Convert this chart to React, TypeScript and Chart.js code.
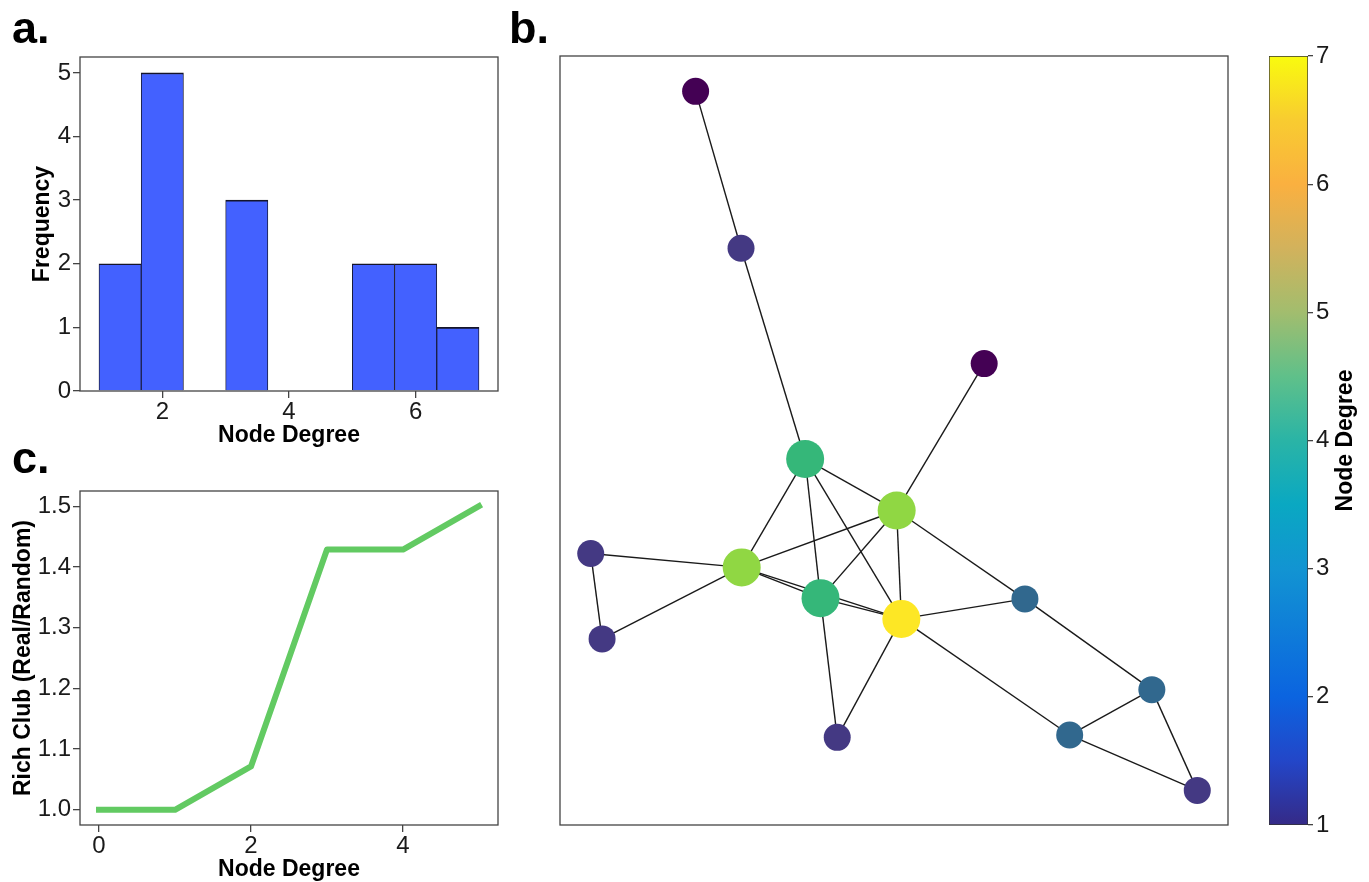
import React, { useEffect, useRef } from "react";
import { Chart, registerables } from "chart.js";

Chart.register(...registerables);

const FONT = 'Arial, "Liberation Sans", Helvetica, sans-serif';

// ---------- Panel a: node degree histogram ----------
const degreeBinEdges = [1, 5 / 3, 7 / 3, 3, 11 / 3, 13 / 3, 5, 17 / 3, 19 / 3, 7];
const degreeBinCounts = [2, 5, 0, 3, 0, 0, 2, 2, 1];
const histXTicks = [2, 4, 6];
const histYTicks = [0, 1, 2, 3, 4, 5];
const histXRange = [0.7, 7.3];
const histYRange = [0, 5.25];

// ---------- Panel c: rich club ----------
const richClubDegree = [0, 1, 2, 3, 4, 5];
const richClubRatio = [1.0, 1.0, 1.0714, 1.4286, 1.4286, 1.5];
const richXTicks = [0, 2, 4];
const richYTicks = [1.0, 1.1, 1.2, 1.3, 1.4, 1.5];
const richXRange = [-0.25, 5.25];
const richYRange = [0.975, 1.525];

// ---------- Panel b: network ----------
const nodeX = [0.203, 0.271, 0.635, 0.367, 0.504, 0.272, 0.39, 0.511, 0.046, 0.063, 0.415, 0.696, 0.763, 0.886, 0.954];
const nodeY = [0.954, 0.75, 0.6, 0.476, 0.409, 0.335, 0.295, 0.268, 0.353, 0.242, 0.114, 0.294, 0.117, 0.176, 0.045];
const edgeSource = [0, 1, 2, 3, 3, 3, 3, 4, 4, 4, 4, 5, 5, 5, 5, 6, 6, 7, 7, 7, 8, 11, 12, 12, 13];
const edgeTarget = [1, 3, 4, 4, 5, 6, 7, 5, 6, 7, 11, 8, 9, 6, 7, 7, 10, 10, 11, 12, 9, 13, 13, 14, 14];
// viridis sampled for degrees 1..7
const viridisByDegree = ["#440154", "#443983", "#31688e", "#21918c", "#35b779", "#90d743", "#fde725"];

// ---------- Colorbar ----------
const colorbarTicks = [1, 2, 3, 4, 5, 6, 7];
const colorbarStops: [number, string][] = [
  [0, "#352a87"],
  [0.083, "#2346c8"],
  [0.167, "#0b64e0"],
  [0.333, "#1294d2"],
  [0.417, "#0aa8c2"],
  [0.5, "#2ab4a6"],
  [0.583, "#5fc08a"],
  [0.667, "#a2bd6e"],
  [0.75, "#d2b25c"],
  [0.833, "#fab040"],
  [0.917, "#f8cc30"],
  [1, "#f9fb0e"],
];
const colorbarTitle = "Node Degree";

const SPINE = "#444444";

const framePlugin = {
  id: "frame",
  afterDraw(chart: any) {
    const { ctx, chartArea: a } = chart;
    ctx.save();
    ctx.strokeStyle = SPINE;
    ctx.lineWidth = 1.3;
    ctx.strokeRect(a.left, a.top, a.right - a.left, a.bottom - a.top);
    ctx.restore();
  },
};

const tickGrid = (len: number) => ({
  display: true,
  drawOnChartArea: false,
  drawTicks: true,
  tickLength: len,
  color: SPINE,
  lineWidth: 1.3,
  offset: false,
});

const tickFont = { family: FONT, size: 24 };
const titleFont = { family: FONT, size: 23, weight: "bold" as const };

export default function App() {
  const refA = useRef<HTMLCanvasElement>(null);
  const refB = useRef<HTMLCanvasElement>(null);
  const refC = useRef<HTMLCanvasElement>(null);
  const refD = useRef<HTMLCanvasElement>(null);

  useEffect(() => {
    const charts: Chart[] = [];

    // ---- Histogram ----
    const centers = degreeBinCounts.map((_, i) => (degreeBinEdges[i] + degreeBinEdges[i + 1]) / 2);
    charts.push(
      new Chart(refA.current!, {
        type: "bar",
        data: {
          datasets: [
            {
              data: centers.map((c, i) => ({ x: c, y: degreeBinCounts[i] })),
              backgroundColor: "#4361ff",
              borderColor: "#15152a",
              borderWidth: { top: 1.6, left: 0.9, right: 0.9, bottom: 0 },
              borderSkipped: false,
              barPercentage: 1,
              categoryPercentage: 1,
              grouped: false,
            } as any,
          ],
        },
        options: {
          animation: false,
          responsive: false,
          events: [],
          layout: { autoPadding: false, padding: { top: 57, right: 22, left: 0, bottom: 0 } },
          plugins: { legend: { display: false }, tooltip: { enabled: false } },
          scales: {
            x: {
              type: "linear",
              min: histXRange[0],
              max: histXRange[1],
              offset: false,
              afterBuildTicks: (s: any) => {
                s.ticks = histXTicks.map((v) => ({ value: v }));
              },
              afterFit: (s: any) => {
                s.height = 64;
              },
              grid: tickGrid(7),
              border: { display: false },
              ticks: { font: tickFont, color: "#1a1a1a", padding: 0, maxRotation: 0 },
              title: { display: true, text: "Node Degree", font: titleFont, color: "#000", padding: { top: 0, bottom: 6 } },
            },
            y: {
              type: "linear",
              min: histYRange[0],
              max: histYRange[1],
              afterBuildTicks: (s: any) => {
                s.ticks = histYTicks.map((v) => ({ value: v }));
              },
              afterFit: (s: any) => {
                s.width = 80;
              },
              grid: tickGrid(7),
              border: { display: false },
              ticks: { font: tickFont, color: "#1a1a1a", padding: 2 },
              title: { display: true, text: "Frequency", font: titleFont, color: "#000", padding: { top: 29, bottom: 0 } },
            },
          },
        } as any,
        plugins: [framePlugin],
      })
    );

    // ---- Rich club line ----
    charts.push(
      new Chart(refC.current!, {
        type: "line",
        data: {
          datasets: [
            {
              data: richClubDegree.map((d, i) => ({ x: d, y: richClubRatio[i] })),
              borderColor: "#62ca62",
              borderWidth: 6,
              borderCapStyle: "square",
              borderJoinStyle: "round",
              pointRadius: 0,
              tension: 0,
              fill: false,
            } as any,
          ],
        },
        options: {
          animation: false,
          responsive: false,
          events: [],
          layout: { autoPadding: false, padding: { top: 36, right: 22, left: 0, bottom: 0 } },
          plugins: { legend: { display: false }, tooltip: { enabled: false } },
          scales: {
            x: {
              type: "linear",
              min: richXRange[0],
              max: richXRange[1],
              afterBuildTicks: (s: any) => {
                s.ticks = richXTicks.map((v) => ({ value: v }));
              },
              afterFit: (s: any) => {
                s.height = 57;
              },
              grid: tickGrid(7),
              border: { display: false },
              ticks: { font: tickFont, color: "#1a1a1a", padding: 0, maxRotation: 0 },
              title: { display: true, text: "Node Degree", font: titleFont, color: "#000", padding: { top: 0, bottom: -1 } },
            },
            y: {
              type: "linear",
              min: richYRange[0],
              max: richYRange[1],
              afterBuildTicks: (s: any) => {
                s.ticks = richYTicks.map((v) => ({ value: v }));
              },
              afterFit: (s: any) => {
                s.width = 80;
              },
              grid: tickGrid(7),
              border: { display: false },
              ticks: {
                font: tickFont,
                color: "#1a1a1a",
                padding: 2,
                callback: (v: any) => Number(v).toFixed(1),
              },
              title: {
                display: true,
                text: "Rich Club (Real/Random)",
                font: titleFont,
                color: "#000",
                padding: { top: 10, bottom: 0 },
              },
            },
          },
        } as any,
        plugins: [framePlugin],
      })
    );

    // ---- Network ----
    const degree = nodeX.map(() => 0);
    edgeSource.forEach((s, i) => {
      degree[s] += 1;
      degree[edgeTarget[i]] += 1;
    });
    const nodeColors = degree.map((d) => viridisByDegree[d - 1]);
    const nodeRadii = degree.map((d) => (d >= 5 ? 19 : 13.5));
    const edgeSets = edgeSource.map((s, i) => {
      const t = edgeTarget[i];
      return {
        data: [
          { x: nodeX[s], y: nodeY[s] },
          { x: nodeX[t], y: nodeY[t] },
        ],
        showLine: true,
        borderColor: "#1a1a1a",
        borderWidth: 1.4,
        pointRadius: 0,
        order: 1,
      };
    });
    charts.push(
      new Chart(refB.current!, {
        type: "scatter",
        data: {
          datasets: [
            {
              data: nodeX.map((x, i) => ({ x, y: nodeY[i] })),
              pointRadius: nodeRadii,
              pointBackgroundColor: nodeColors,
              pointBorderWidth: 0,
              order: 0,
            } as any,
            ...(edgeSets as any[]),
          ],
        },
        options: {
          animation: false,
          responsive: false,
          events: [],
          layout: { autoPadding: false, padding: { left: 20, top: 56, right: 12, bottom: 57 } },
          plugins: { legend: { display: false }, tooltip: { enabled: false } },
          scales: {
            x: { type: "linear", display: false, min: 0, max: 1 },
            y: { type: "linear", display: false, min: 0, max: 1 },
          },
        } as any,
        plugins: [framePlugin],
      })
    );

    // ---- Colorbar ----
    const cbTitlePlugin = {
      id: "cbTitle",
      afterDraw(chart: any) {
        const { ctx, chartArea: a } = chart;
        ctx.save();
        ctx.translate(106, (a.top + a.bottom) / 2);
        ctx.rotate(-Math.PI / 2);
        ctx.font = `bold 23px ${FONT}`;
        ctx.fillStyle = "#000";
        ctx.textAlign = "center";
        ctx.textBaseline = "middle";
        ctx.fillText(colorbarTitle, 0, 0);
        ctx.restore();
      },
    };
    charts.push(
      new Chart(refD.current!, {
        type: "bar",
        data: {
          labels: ["degree"],
          datasets: [
            {
              data: [[colorbarTicks[0], colorbarTicks[colorbarTicks.length - 1]]],
              backgroundColor: (c: any) => {
                const a = c.chart.chartArea;
                if (!a) return colorbarStops[0][1];
                const g = c.chart.ctx.createLinearGradient(0, a.bottom, 0, a.top);
                colorbarStops.forEach(([t, col]) => g.addColorStop(t, col));
                return g;
              },
              borderColor: "#333333",
              borderWidth: 1,
              borderSkipped: false,
              barPercentage: 1,
              categoryPercentage: 1,
            } as any,
          ],
        },
        options: {
          animation: false,
          responsive: false,
          events: [],
          layout: { autoPadding: false, padding: { left: 29, top: 56, right: 0, bottom: 57 } },
          plugins: { legend: { display: false }, tooltip: { enabled: false } },
          scales: {
            x: { display: false },
            y: {
              type: "linear",
              position: "right",
              min: colorbarTicks[0],
              max: colorbarTicks[colorbarTicks.length - 1],
              afterBuildTicks: (s: any) => {
                s.ticks = colorbarTicks.map((v) => ({ value: v }));
              },
              afterFit: (s: any) => {
                s.width = 61;
              },
              grid: tickGrid(5),
              border: { display: false },
              ticks: { font: tickFont, color: "#1a1a1a", padding: 3 },
            },
          },
        } as any,
        plugins: [cbTitlePlugin],
      })
    );

    return () => charts.forEach((c) => c.destroy());
  }, []);

  const panelLabel = (text: string, left: number, top: number) => (
    <div
      style={{
        position: "absolute",
        left,
        top,
        font: `bold 45px ${FONT}`,
        lineHeight: "45px",
        color: "#000",
        margin: 0,
      }}
    >
      {text}
    </div>
  );

  return (
    <div
      style={{
        position: "absolute",
        left: 0,
        top: 0,
        width: 1369,
        height: 882,
        background: "#fff",
        overflow: "hidden",
      }}
    >
      <canvas ref={refA} width={520} height={455} style={{ position: "absolute", left: 0, top: 0 }} />
      <canvas ref={refC} width={520} height={427} style={{ position: "absolute", left: 0, top: 455 }} />
      <canvas ref={refB} width={700} height={882} style={{ position: "absolute", left: 540, top: 0 }} />
      <canvas ref={refD} width={129} height={882} style={{ position: "absolute", left: 1240, top: 0 }} />
      {panelLabel("a.", 12, 5)}
      {panelLabel("b.", 509, 5)}
      {panelLabel("c.", 12, 435)}
    </div>
  );
}
